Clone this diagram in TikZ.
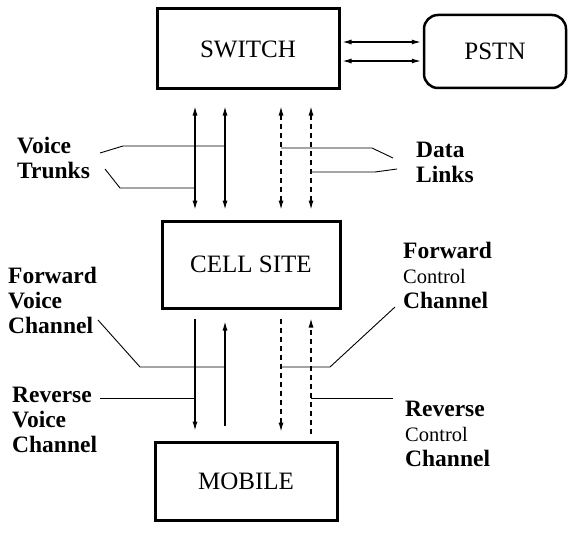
\documentclass[tikz,border=0pt]{standalone}
\usepackage{fontspec}
\setmainfont{Liberation Serif}
\usetikzlibrary{arrows.meta,positioning}

\tikzset{
	block/.style={draw, line width=3pt, minimum width=182pt, minimum height=80pt,
		font=\fontsize{25}{28}\selectfont},
	link/.style={line width=1.1pt},
	ctrl/.style={link, dash pattern=on 5pt off 4pt},
	leader/.style={line width=0.9pt},
	lbl/.style={align=left, anchor=west, inner sep=0pt,
		font=\fontsize{23.5}{25}\selectfont\bfseries},
}
\newcommand{\ctrltext}{{\fontsize{20.5}{25}\selectfont\mdseries Control}}

\begin{document}
\begin{tikzpicture}[x=1pt, y=-1pt, >={Latex[length=9pt,width=5pt]}]
	\useasboundingbox (0,0) rectangle (569,532);

	% the four blocks
	\node[block] (switch) at (248,49) {SWITCH};
	\node[block, rounded corners=14pt, minimum width=142pt, minimum height=73pt, line width=2.5pt] (pstn) at (495,51.5) {PSTN};
	\node[block, minimum width=178pt, minimum height=87pt] (cell) at (251,264.5) {CELL SITE};
	\node[block, minimum height=78pt] (mobile) at (246,481) {MOBILE};

	% columns of the vertical links
	\coordinate (va) at (195,0);
	\coordinate (vb) at (225,0);
	\coordinate (da) at (281,0);
	\coordinate (db) at (311,0);

	% switch <-> pstn
	\draw [link, <->, shorten <=2pt, shorten >=2pt] ([yshift=9.5pt]pstn.west -| switch.east) -- ([yshift=9.5pt]pstn.west);
	\draw [link, <->, shorten <=2pt, shorten >=2pt] ([yshift=-9.5pt]pstn.west -| switch.east) -- ([yshift=-9.5pt]pstn.west);

	% switch <-> cell site
	\draw [link, <->, shorten <=16pt, shorten >=10pt] (switch.south -| va) -- (cell.north -| va);
	\draw [link, <->, shorten <=16pt, shorten >=10pt] (switch.south -| vb) -- (cell.north -| vb);
	\draw [ctrl, <->, shorten <=16pt, shorten >=10pt] (switch.south -| da) -- (cell.north -| da);
	\draw [ctrl, <->, shorten <=16pt, shorten >=10pt] (switch.south -| db) -- (cell.north -| db);

	% cell site <-> mobile
	\draw [link, ->, shorten <=9pt, shorten >=10pt] (cell.south -| va) -- (mobile.north -| va);
	\draw [link, ->, shorten <=15pt, shorten >=12pt] (mobile.north -| vb) -- (cell.south -| vb);
	\draw [ctrl, ->, shorten <=9pt, shorten >=9pt] (cell.south -| da) -- (mobile.north -| da);
	\draw [ctrl, ->, shorten <=7pt, shorten >=9pt] (mobile.north -| db) -- (cell.south -| db);

	% labels
	\node[lbl] (trunks) at (17,158) {Voice\\Trunks};
	\node[lbl] (datal) at (416,162) {Data\\Links};
	\node[lbl] (fvc) at (8,300) {Forward\\Voice\\Channel};
	\node[lbl] (rvc) at (12,420) {Reverse\\Voice\\Channel};
	\node[lbl] (fcc) at (403,275) {Forward\\\ctrltext\\Channel};
	\node[lbl] (rcc) at (405,434) {Reverse\\\ctrltext\\Channel};

	% leader lines
	\draw [leader] (100,153) -- (123,146) -- (225,146);
	\draw [leader] (105,169) -- (120,188) -- (195,188);
	\draw [leader] (281,148) -- (372,148) -- (393,158);
	\draw [leader] (311,172) -- (375,172) -- (397,169);
	\draw [leader] (98,320) -- (140,367) -- (225,367);
	\draw [leader] (100,398) -- (195,398);
	\draw [leader] (281,367) -- (330,367) -- (395,307);
	\draw [leader] (311,398) -- (393,398);

\end{tikzpicture}
\end{document}
